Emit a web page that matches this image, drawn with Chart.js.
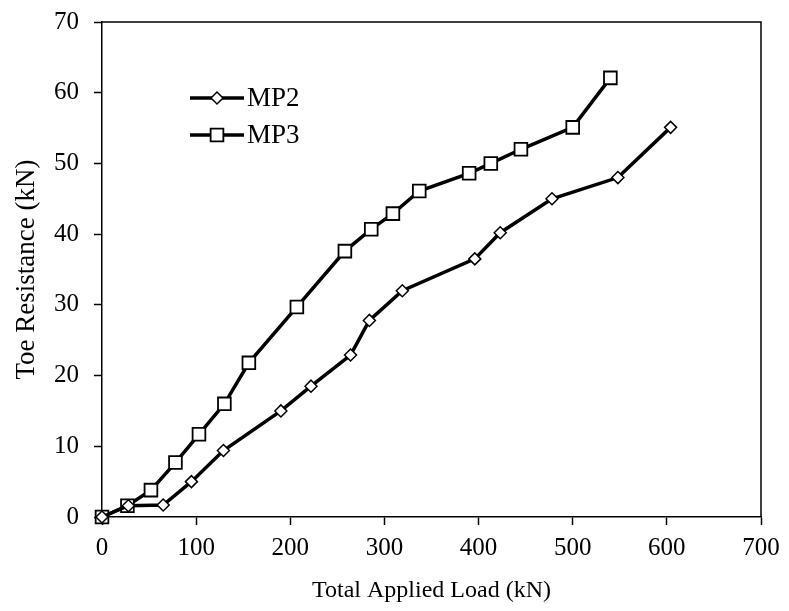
<!DOCTYPE html>
<html>
<head>
<meta charset="utf-8">
<script src="https://cdn.jsdelivr.net/npm/chart.js@4/dist/chart.umd.min.js"></script>
<style>
  html, body { margin: 0; padding: 0; background: #fff; }
  #wrap { width: 789px; height: 611px; }
</style>
</head>
<body>
<div id="wrap"><canvas id="toe-chart" width="789" height="611"></canvas></div>
<script>
// MP2 - 하중 / 선단저항
const mp2Load = [0, 28, 65, 95, 129, 190, 222, 264, 284, 319, 396, 423, 478, 548, 604];
const mp2Toe = [0, 1.6, 1.7, 5.0, 9.4, 15.0, 18.5, 22.9, 27.8, 32.0, 36.5, 40.2, 45.0, 48.0, 55.1];

// MP3
const mp3Load = [0, 27, 52, 78, 103, 130, 156, 207, 258, 286, 309, 337, 390, 413, 445, 500, 540];
const mp3Toe = [0, 1.6, 3.8, 7.7, 11.7, 16.0, 21.8, 29.7, 37.6, 40.7, 42.9, 46.1, 48.6, 50.0, 52.0, 55.1, 62.1];

const seriesNames = ['MP2', 'MP3'];
const xTitle = 'Total Applied Load (kN)';
const yTitle = 'Toe Resistance (kN)';

const FONT = "'Liberation Serif', 'Times New Roman', serif";

function toPoints(xs, ys) {
  return xs.map((x, i) => ({ x: x, y: ys[i] }));
}

// 상단/오른쪽 테두리 + 범례 직접 그리기
const framePlugin = {
  id: 'framePlugin',
  afterDraw(chart) {
    const ctx = chart.ctx;
    const a = chart.chartArea;
    ctx.save();
    ctx.strokeStyle = '#000';
    ctx.lineWidth = 1.5;
    ctx.beginPath();
    ctx.moveTo(a.left, a.top);
    ctx.lineTo(a.right, a.top);
    ctx.lineTo(a.right, a.bottom);
    ctx.stroke();

    // 범례
    chart.data.datasets.forEach((ds, i) => {
      const y = a.top + 76 + i * 37;
      const x0 = a.left + 88;
      const x1 = a.left + 142;
      ctx.strokeStyle = '#000';
      ctx.lineWidth = ds.borderWidth;
      ctx.beginPath();
      ctx.moveTo(x0, y);
      ctx.lineTo(x1, y);
      ctx.stroke();
      ctx.fillStyle = ds.pointBackgroundColor;
      ctx.strokeStyle = ds.pointBorderColor;
      ctx.lineWidth = ds.pointBorderWidth;
      Chart.helpers.drawPoint(ctx, { pointStyle: ds.pointStyle, radius: ds.pointRadius, rotation: 0, borderWidth: ds.pointBorderWidth }, (x0 + x1) / 2, y);
      ctx.fillStyle = '#000';
      ctx.font = '27px ' + FONT;
      ctx.textAlign = 'left';
      ctx.textBaseline = 'middle';
      ctx.fillText(ds.label, x1 + 3, y + 1);
    });
    ctx.restore();
  },
};

const toeChart = new Chart(document.getElementById('toe-chart'), {
  type: 'scatter',
  data: {
    datasets: [
      {
        label: seriesNames[0],
        data: toPoints(mp2Load, mp2Toe),
        showLine: true,
        clip: false,
        borderColor: '#000',
        borderWidth: 3.5,
        pointStyle: 'rectRot',
        pointRadius: 6,
        pointBackgroundColor: '#fff',
        pointBorderColor: '#000',
        pointBorderWidth: 1.5,
      },
      {
        label: seriesNames[1],
        data: toPoints(mp3Load, mp3Toe),
        showLine: true,
        clip: false,
        borderColor: '#000',
        borderWidth: 3.5,
        pointStyle: 'rect',
        pointRadius: 9,
        pointBackgroundColor: '#fff',
        pointBorderColor: '#000',
        pointBorderWidth: 1.8,
      },
    ],
  },
  options: {
    responsive: false,
    animation: false,
    layout: { padding: { top: 22, right: 28, left: 0, bottom: 0 } },
    plugins: {
      legend: { display: false },
      tooltip: { enabled: false },
    },
    scales: {
      x: {
        type: 'linear',
        min: 0,
        max: 700,
        ticks: { stepSize: 100, color: '#000', font: { family: FONT, size: 25 }, padding: 8, maxRotation: 0 },
        grid: { drawOnChartArea: false, drawTicks: true, tickLength: 8, tickColor: '#000', tickWidth: 1.5 },
        border: { display: true, color: '#000', width: 1.5 },
        title: { display: true, text: xTitle, color: '#000', font: { family: FONT, size: 24 }, padding: { top: 4, bottom: 6 } },
        afterFit(scale) {
          scale.height = 94;
          scale.paddingLeft = 0;
          scale.paddingRight = 0;
        },
      },
      y: {
        min: 0,
        max: 70,
        ticks: { stepSize: 10, color: '#000', font: { family: FONT, size: 25 }, padding: 15 },
        grid: { drawOnChartArea: false, drawTicks: true, tickLength: 8, tickColor: '#000', tickWidth: 1.5 },
        border: { display: true, color: '#000', width: 1.5 },
        title: { display: true, text: yTitle, color: '#000', font: { family: FONT, size: 27 }, padding: { top: 11, bottom: 4 } },
        afterFit(scale) {
          scale.width = 102;
          scale.paddingTop = 0;
          scale.paddingBottom = 0;
        },
      },
    },
  },
  plugins: [framePlugin],
});
</script>
</body>
</html>
